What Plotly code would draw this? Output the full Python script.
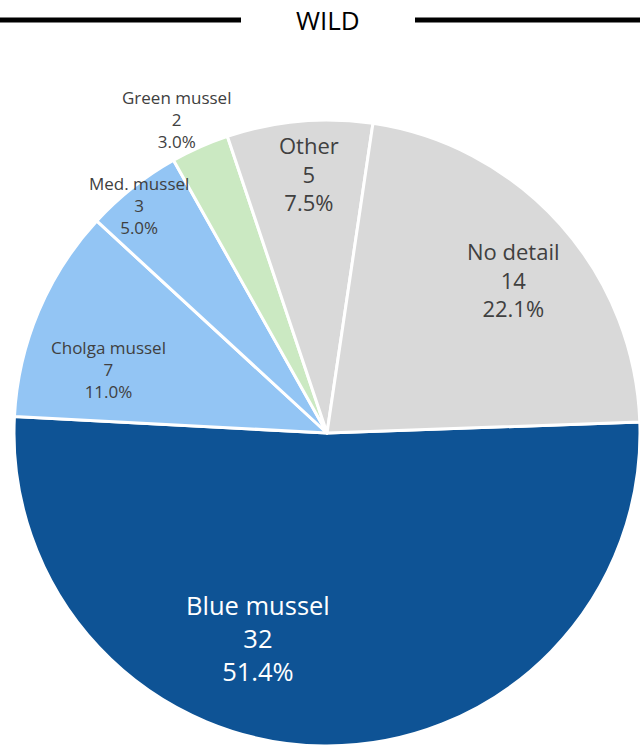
import plotly.graph_objects as go

W, H = 640, 750

# Species breakdown of the wild harvest
species = ["Blue mussel", "Cholga mussel", "Med. mussel", "Green mussel", "Other", "No detail"]
counts = [32, 7, 3, 2, 5, 14]
shares = [51.4, 11.0, 5.0, 3.0, 7.5, 22.1]

colors = ["#0E5395", "#93C5F4", "#93C5F4", "#CBE9C2", "#D9D9D9", "#D9D9D9"]
# label block centre (px), font size, colour
label_px = [(258, 638), (108, 369), (139, 206), (176, 119), (309, 173), (513, 279)]
label_size = [25.5, 17, 17, 17, 22, 22]
label_color = ["#FFFFFF", "#404040", "#404040", "#404040", "#404040", "#404040"]

FONT = "'Open Sans', Lato, sans-serif"

fig = go.Figure(
    go.Pie(
        labels=species,
        values=shares,
        sort=False,
        direction="clockwise",
        rotation=88,
        marker=dict(colors=colors, line=dict(color="#FFFFFF", width=3)),
        textinfo="none",
        hoverinfo="label+value",
        showlegend=False,
        domain=dict(x=[14 / W, 1.0], y=[4 / H, 630 / H]),
    )
)

annotations = []
for name, n, pct, (px, py), fs, fc in zip(
    species, counts, shares, label_px, label_size, label_color
):
    annotations.append(
        dict(
            x=px / W, y=1 - py / H, xref="paper", yref="paper",
            xanchor="center", yanchor="middle", showarrow=False,
            text=f"{name}<br>{n}<br>{pct:.1f}%",
            font=dict(family=FONT, size=fs, color=fc),
        )
    )

annotations.append(
    dict(
        x=328 / W, y=1 - 20 / H, xref="paper", yref="paper",
        xanchor="center", yanchor="middle", showarrow=False,
        text="WILD", font=dict(family=FONT, size=26, color="#000000"),
    )
)

shapes = [
    dict(type="line", xref="paper", yref="paper", x0=0, x1=241 / W,
         y0=1 - 20 / H, y1=1 - 20 / H, line=dict(color="#000000", width=5)),
    dict(type="line", xref="paper", yref="paper", x0=415 / W, x1=1,
         y0=1 - 20 / H, y1=1 - 20 / H, line=dict(color="#000000", width=5)),
]

fig.update_layout(
    width=W, height=H,
    margin=dict(l=0, r=0, t=0, b=0),
    paper_bgcolor="#FFFFFF", plot_bgcolor="#FFFFFF",
    annotations=annotations, shapes=shapes,
    font=dict(family=FONT),
)

fig.write_html("out.html")
